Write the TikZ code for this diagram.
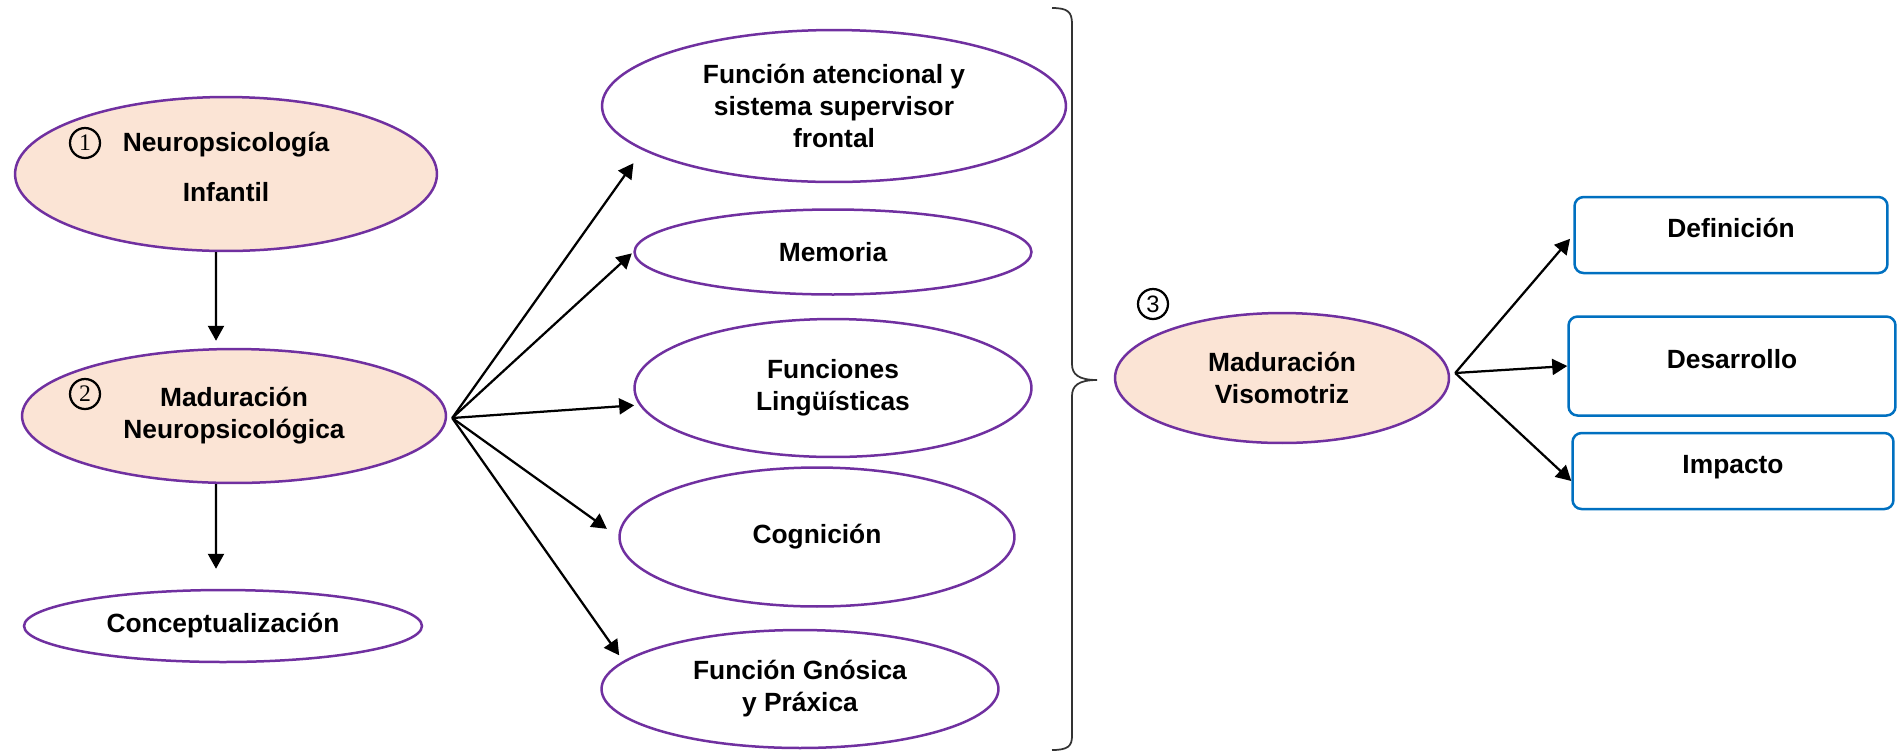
\documentclass[tikz,border=0pt]{standalone}
\usepackage{fontspec}
\setmainfont{Liberation Sans}
\newfontfamily\serifnum{Liberation Serif}
\usepackage{tikz}
\usetikzlibrary{arrows.meta,shapes.geometric}
\definecolor{peach}{HTML}{FBE4D5}
\definecolor{lila}{HTML}{7030A0}
\definecolor{azul}{HTML}{0070C0}
\tikzset{
  mapa/.style={x=0.02cm, y=-0.02cm, >={Triangle[length=0.3cm,width=0.32cm]},
               every node/.style={font=\fontsize{15}{18.2}\selectfont\bfseries, align=center, inner sep=0pt}},
  oval/.style={ellipse, draw=lila, line width=0.05cm, fill=white},
  tema/.style={oval, fill=peach},
  caja/.style={draw=azul, line width=0.05cm, rounded corners=0.18cm, fill=white, text height=0.3cm, text depth=0.22cm},
  num/.style={draw, circle, line width=0.045cm, minimum size=0.6cm, font=\fontsize{13.5}{13.5}\selectfont},
  flecha/.style={->, line width=0.045cm},
  llave/.style={line width=0.035cm, black!80}
}

\begin{document}
\begin{tikzpicture}[mapa]
\useasboundingbox (0,0) rectangle (1901,752);
% columna izquierda
\node[tema, minimum width=8.44cm, minimum height=3.08cm, text depth=0.3cm] (ni) at (226,174) {Neuropsicología\\[0.36cm]Infantil};
\node[tema, minimum width=8.48cm, minimum height=2.68cm] (mn) at (234,416) {Maduración\\Neuropsicológica};
\node[oval, minimum width=7.96cm, minimum height=1.44cm] (co) at (223,626) {Conceptualización};
\node[num] (u1) at (85,143) {\serifnum 1};
\node[num] (u2) at (85,394) {\serifnum 2};
\draw[flecha, shorten >=0.14cm] ([xshift=-0.2cm]ni.south) -- ([xshift=-0.36cm]mn.north);
\draw[flecha, shorten >=0.4cm] ([xshift=-0.36cm]mn.south) -- ([xshift=-0.14cm]co.north);
% funciones
\node[oval, minimum width=9.28cm, minimum height=3.04cm] (fa) at (834,106) {Función atencional y\\sistema supervisor\\frontal};
\node[oval, minimum width=7.94cm, minimum height=1.7cm] (me) at (833,252) {Memoria};
\node[oval, minimum width=7.94cm, minimum height=2.76cm] (fl) at (833,388) {Funciones\\Lingüísticas};
\node[oval, minimum width=7.9cm, minimum height=2.78cm] (cg) at (817,537) {Cognición};
\node[oval, minimum width=7.94cm, minimum height=2.36cm] (gp) at (800,689) {Función Gnósica\\y Práxica};
\coordinate (hub) at ([xshift=0.1cm,yshift=-0.04cm]mn.east);
\draw[flecha, shorten >=0.32cm] (hub) -- (fa.193);
\draw[flecha, shorten >=0.04cm] (hub) -- (me.west);
\draw[flecha, shorten >=0.1cm] (hub) -- (fl.185);
\draw[flecha, shorten >=0.28cm] (hub) -- (cg.west);
\draw[flecha, shorten >=0.14cm] (hub) -- (gp.171);
% llave
\draw[llave] (1052,8) .. controls (1068,8) and (1072,12) .. (1072,24) -- (1072,364)
  .. controls (1072,374) and (1078,380) .. (1097,380) .. controls (1078,380) and (1072,386) .. (1072,396)
  -- (1072,736) .. controls (1072,746) and (1068,750) .. (1052,750);
% visomotriz
\node[tema, minimum width=6.68cm, minimum height=2.6cm] (vm) at (1282,378) {Maduración\\Visomotriz};
\node[num] (u3) at (1153,304) {3};
\node[caja, minimum width=6.26cm, minimum height=1.52cm] (de) at (1731,235) {Definición};
\node[caja, minimum width=6.54cm, minimum height=1.98cm] (ds) at (1732,366) {Desarrollo};
\node[caja, minimum width=6.42cm, minimum height=1.52cm] (im) at (1733,471) {Impacto};
\coordinate (hub2) at ([xshift=0.1cm,yshift=0.1cm]vm.east);
\draw[flecha, shorten >=0.1cm] (hub2) -- (de.west);
\draw[flecha] (hub2) -- (ds.west);
\draw[flecha] (hub2) -- ([yshift=-0.2cm]im.west);
\end{tikzpicture}
\end{document}
